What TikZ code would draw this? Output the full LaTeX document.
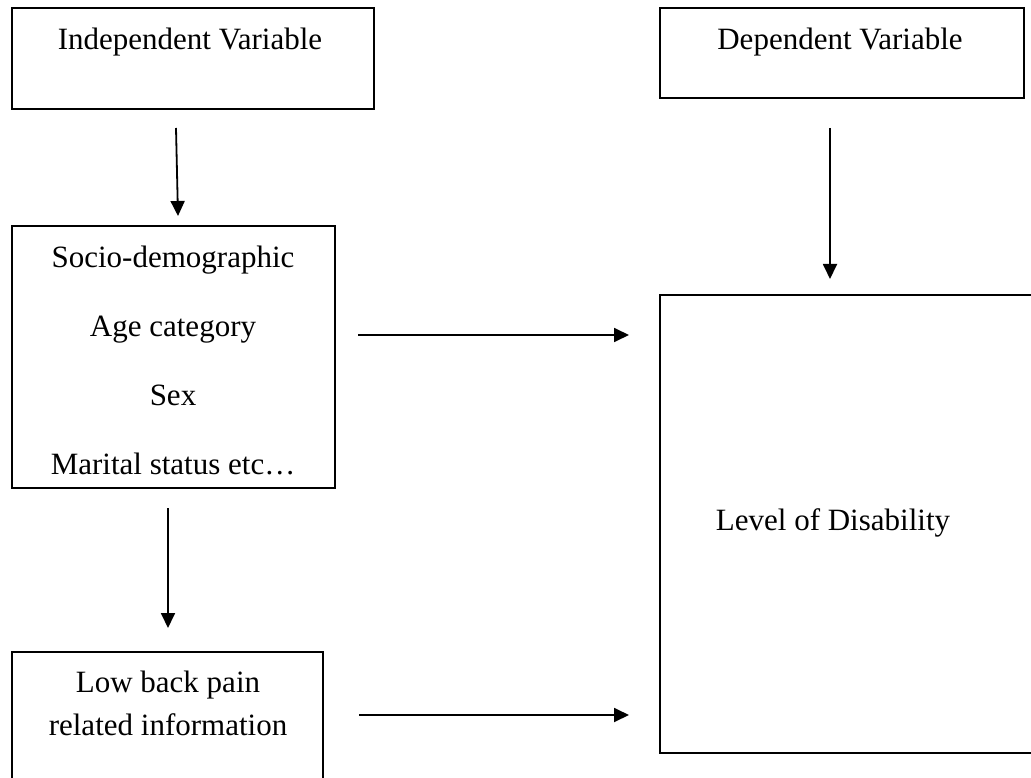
\documentclass[tikz,border=0pt]{standalone}
\usepackage{fontspec}
\setmainfont{Liberation Serif}
\usetikzlibrary{arrows.meta}
\begin{document}
\begin{tikzpicture}[x=1pt,y=-1pt,
  box/.style={draw,line width=2.4pt,rectangle,inner sep=0pt,minimum width=#1},
  lbl/.style={anchor=base,font=\fontsize{31}{37}\selectfont,inner sep=0pt},
  conn/.style={line width=1.8pt,-{Triangle[width=14pt,length=15pt]}}]
\clip (0,0) rectangle (1031,778);
\fill[white] (0,0) rectangle (1031,778);
% boxes
\node[box=362pt,minimum height=101pt] (indep) at (193,58.5) {};
\node[box=364pt,minimum height=90pt] (dep) at (842,53) {};
\node[box=323pt,minimum height=262pt] (socio) at (173.5,357) {};
\node[box=400pt,minimum height=458pt] (level) at (860,524) {};
\node[box=311pt,minimum height=160pt] (lbp) at (167.5,732) {};
% texts
\node[lbl] (tindep) at (190,50) {Independent Variable};
\node[lbl] (tdep) at (840,50) {Dependent Variable};
\node[lbl] (t1) at (173,267) {Socio-demographic};
\node[lbl] (t2) at (173,336) {Age category};
\node[lbl] (t3) at (173,405) {Sex};
\node[lbl] (t4) at (173,474) {Marital status etc…};
\node[lbl] (tlev) at (833,530) {Level of Disability};
\node[lbl] (tl1) at (168,692) {Low back pain};
\node[lbl] (tl2) at (168,735) {related information};
% connector ends
\coordinate (a1s) at (176,128); \coordinate (a1e) at (178,216);
\coordinate (a2s) at (830,128); \coordinate (a2e) at (830,279);
\coordinate (a3s) at (358,335); \coordinate (a3e) at (629,335);
\coordinate (a4s) at (168,508); \coordinate (a4e) at (168,628);
\coordinate (a5s) at (359,715); \coordinate (a5e) at (629,715);
\draw[conn] (a1s) -- (a1e);
\draw[conn] (a2s) -- (a2e);
\draw[conn] (a3s) -- (a3e);
\draw[conn] (a4s) -- (a4e);
\draw[conn] (a5s) -- (a5e);
\end{tikzpicture}
\end{document}
